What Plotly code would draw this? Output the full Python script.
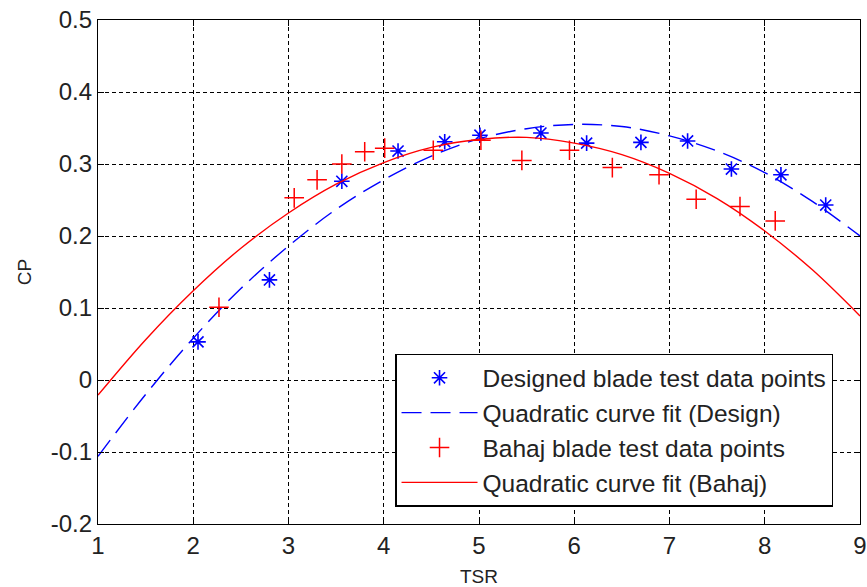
import plotly.graph_objects as go

# Designed blade test data points (blue asterisks)
design_tsr = [2.05, 2.80, 3.56, 4.15, 4.64, 5.01, 5.65, 6.13, 6.70, 7.19, 7.65, 8.17, 8.64]
design_cp = [0.053, 0.139, 0.276, 0.318, 0.331, 0.340, 0.343, 0.329, 0.330, 0.332, 0.293, 0.285, 0.243]

# Bahaj blade test data points (red plus)
bahaj_tsr = [2.27, 3.06, 3.30, 3.56, 3.80, 4.01, 4.52, 5.02, 5.45, 5.95, 6.40, 6.89, 7.28, 7.74, 8.11]
bahaj_cp = [0.101, 0.253, 0.278, 0.300, 0.317, 0.322, 0.319, 0.333, 0.305, 0.319, 0.295, 0.285, 0.251, 0.241, 0.221]

# Quadratic curve fits
fit_tsr = [1, 1.5, 2, 2.5, 3, 3.5, 4, 4.5, 5, 5.5, 6, 6.5, 7, 7.5, 8, 8.5, 9]
fit_design_cp = [-0.106, -0.020, 0.058, 0.127, 0.186, 0.237, 0.278, 0.311, 0.335, 0.349,
                 0.355, 0.352, 0.339, 0.318, 0.288, 0.248, 0.200]
fit_bahaj_cp = [-0.021, 0.056, 0.124, 0.183, 0.232, 0.272, 0.302, 0.323, 0.334, 0.337,
                0.329, 0.313, 0.287, 0.252, 0.207, 0.153, 0.089]

x_ticks = [1, 2, 3, 4, 5, 6, 7, 8, 9]
x_ticktext = ["1", "2", "3", "4", "5", "6", "7", "8", "9"]
y_ticks = [-0.2, -0.1, 0, 0.1, 0.2, 0.3, 0.4, 0.5]
y_ticktext = ["-0.2", "-0.1", "0", "0.1", "0.2", "0.3", "0.4", "0.5"]

FONT = "Liberation Sans, Arial, sans-serif"

fig = go.Figure()
fig.add_trace(go.Scatter(
    x=design_tsr, y=design_cp, mode="markers",
    name="Designed blade test data points",
    marker=dict(symbol="asterisk-open", size=13, color="blue",
                line=dict(color="blue", width=1.6)),
))
fig.add_trace(go.Scatter(
    x=fit_tsr, y=fit_design_cp, mode="lines", line_shape="spline",
    name="Quadratic curve fit (Design)",
    line=dict(color="blue", width=1.4, dash="20px,9px"),
))
fig.add_trace(go.Scatter(
    x=bahaj_tsr, y=bahaj_cp, mode="markers",
    name="Bahaj blade test data points",
    marker=dict(symbol="cross-thin-open", size=14, color="red",
                line=dict(color="red", width=1.5)),
))
fig.add_trace(go.Scatter(
    x=fit_tsr, y=fit_bahaj_cp, mode="lines", line_shape="spline",
    name="Quadratic curve fit (Bahaj)",
    line=dict(color="red", width=1.4),
))

axis_common = dict(
    showline=True, linecolor="black", linewidth=1.3, mirror="ticks",
    ticks="inside", ticklen=6, tickcolor="black", tickwidth=1,
    showgrid=True, gridcolor="black", gridwidth=1, griddash="4px,3px",
    zeroline=False, automargin=False,
    tickfont=dict(family=FONT, size=24, color="#222"),
)

fig.update_xaxes(range=[1, 9], tickvals=x_ticks, ticktext=x_ticktext,
                 title=dict(text="TSR", font=dict(family=FONT, size=19, color="#222"), standoff=12),
                 **axis_common)
fig.update_yaxes(range=[-0.2, 0.5], tickvals=y_ticks, ticktext=y_ticktext,
                 title=dict(text="CP", font=dict(family=FONT, size=19, color="#222"), standoff=14),
                 **axis_common)

fig.update_layout(
    width=867, height=587,
    margin=dict(l=98, r=7, t=20, b=63, autoexpand=False),
    paper_bgcolor="white", plot_bgcolor="white",
    showlegend=True,
    legend=dict(
        x=0.9646, y=0.034, xanchor="right", yanchor="bottom",
        bgcolor="white", bordercolor="black", borderwidth=1.5,
        font=dict(family=FONT, size=24.5, color="#222"),
        itemwidth=76, tracegroupgap=0,
    ),
)

fig.write_html("out.html")
